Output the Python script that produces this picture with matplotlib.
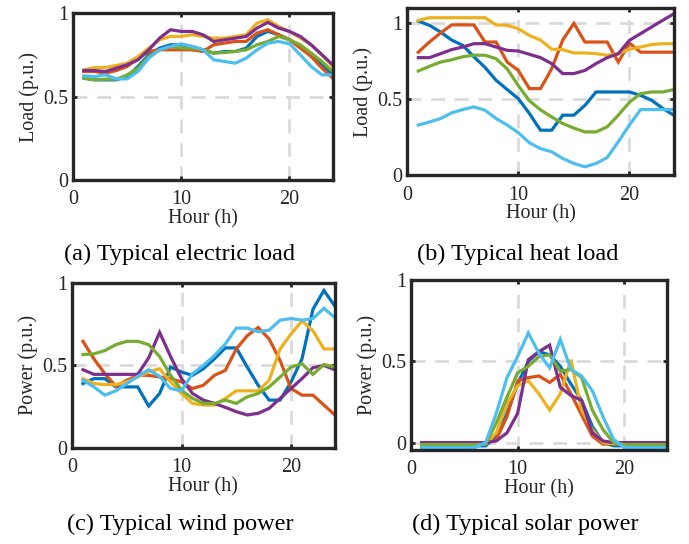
import numpy as np
import matplotlib
matplotlib.use("Agg")
import matplotlib.pyplot as plt

plt.rcParams['font.family'] = ['Liberation Serif', 'DejaVu Serif']
plt.rcParams['mathtext.fontset'] = 'stix'

hours = list(range(1, 25))

# MATLAB default colour order
colors = ['#0072BD', '#D95319', '#EDB120', '#7E2F8E', '#77AC30', '#4DBEEE']

# (a) electric load
elec_blue = [0.61, 0.60, 0.60, 0.60, 0.62, 0.68, 0.75, 0.79, 0.81, 0.81, 0.80, 0.78,
             0.76, 0.77, 0.77, 0.79, 0.86, 0.89, 0.87, 0.84, 0.80, 0.75, 0.69, 0.63]
elec_orange = [0.65, 0.65, 0.64, 0.656, 0.68, 0.73, 0.77, 0.78, 0.78, 0.78, 0.78, 0.77,
               0.81, 0.82, 0.83, 0.83, 0.88, 0.90, 0.87, 0.84, 0.79, 0.74, 0.67, 0.61]
elec_yellow = [0.66, 0.674, 0.674, 0.686, 0.70, 0.74, 0.79, 0.84, 0.86, 0.86, 0.87, 0.86,
               0.85, 0.85, 0.86, 0.87, 0.94, 0.96, 0.92, 0.89, 0.85, 0.81, 0.75, 0.68]
elec_purple = [0.656, 0.656, 0.65, 0.67, 0.69, 0.72, 0.78, 0.85, 0.90, 0.89, 0.89, 0.87,
               0.83, 0.84, 0.85, 0.86, 0.91, 0.944, 0.91, 0.89, 0.86, 0.81, 0.75, 0.69]
elec_green = [0.61, 0.60, 0.604, 0.604, 0.63, 0.67, 0.74, 0.78, 0.80, 0.79, 0.79, 0.78,
              0.76, 0.764, 0.77, 0.78, 0.81, 0.83, 0.86, 0.84, 0.81, 0.76, 0.71, 0.65]
elec_cyan = [0.624, 0.62, 0.63, 0.606, 0.606, 0.65, 0.73, 0.78, 0.80, 0.816, 0.80, 0.78,
             0.72, 0.71, 0.70, 0.73, 0.78, 0.82, 0.83, 0.816, 0.75, 0.68, 0.63, 0.63]

# (b) heat load
heat_blue = [1.015, 0.987, 0.943, 0.89, 0.855, 0.78, 0.71, 0.625, 0.564, 0.504, 0.406, 0.296,
             0.296, 0.395, 0.395, 0.46, 0.548, 0.548, 0.548, 0.548, 0.526, 0.493, 0.44, 0.395]
heat_orange = [0.81, 0.877, 0.936, 0.99, 0.99, 0.99, 0.877, 0.877, 0.745, 0.69, 0.57, 0.57,
               0.70, 0.89, 1.0, 0.877, 0.877, 0.877, 0.745, 0.87, 0.81, 0.81, 0.81, 0.81]
heat_yellow = [1.02, 1.037, 1.037, 1.037, 1.037, 1.037, 1.037, 0.99, 0.987, 0.965, 0.92, 0.89,
               0.83, 0.827, 0.805, 0.805, 0.80, 0.79, 0.80, 0.83, 0.844, 0.86, 0.866, 0.866]
heat_purple = [0.774, 0.774, 0.80, 0.827, 0.844, 0.866, 0.866, 0.844, 0.822, 0.818, 0.796, 0.774,
               0.735, 0.669, 0.669, 0.69, 0.735, 0.774, 0.80, 0.888, 0.932, 0.976, 1.02, 1.063]
heat_green = [0.686, 0.717, 0.745, 0.76, 0.78, 0.79, 0.79, 0.767, 0.70, 0.59, 0.49, 0.43,
              0.384, 0.34, 0.31, 0.285, 0.285, 0.318, 0.395, 0.48, 0.537, 0.548, 0.548, 0.564]
heat_cyan = [0.33, 0.35, 0.373, 0.41, 0.432, 0.45, 0.428, 0.373, 0.33, 0.28, 0.213, 0.175,
             0.154, 0.11, 0.077, 0.055, 0.077, 0.116, 0.22, 0.33, 0.432, 0.432, 0.432, 0.432]

# (c) wind power
wind_blue = [0.39, 0.42, 0.42, 0.37, 0.37, 0.37, 0.254, 0.33, 0.49, 0.46, 0.44, 0.48,
             0.54, 0.606, 0.606, 0.49, 0.38, 0.29, 0.29, 0.40, 0.54, 0.84, 0.954, 0.86]
wind_orange = [0.646, 0.54, 0.45, 0.374, 0.41, 0.44, 0.44, 0.43, 0.42, 0.40, 0.36, 0.38,
               0.44, 0.47, 0.60, 0.68, 0.73, 0.66, 0.53, 0.36, 0.32, 0.32, 0.26, 0.20]
wind_yellow = [0.42, 0.39, 0.384, 0.384, 0.40, 0.43, 0.46, 0.48, 0.40, 0.33, 0.27, 0.26,
               0.26, 0.30, 0.346, 0.346, 0.346, 0.41, 0.60, 0.69, 0.77, 0.71, 0.60, 0.60]
wind_purple = [0.474, 0.446, 0.446, 0.446, 0.446, 0.446, 0.546, 0.70, 0.554, 0.42, 0.33, 0.29,
               0.27, 0.246, 0.22, 0.20, 0.21, 0.24, 0.30, 0.36, 0.42, 0.486, 0.50, 0.474]
wind_green = [0.566, 0.57, 0.59, 0.626, 0.646, 0.646, 0.626, 0.554, 0.44, 0.35, 0.30, 0.27,
              0.27, 0.29, 0.27, 0.31, 0.33, 0.37, 0.43, 0.49, 0.51, 0.446, 0.506, 0.49]
wind_cyan = [0.41, 0.37, 0.32, 0.346, 0.39, 0.434, 0.474, 0.434, 0.36, 0.346, 0.45, 0.50,
             0.56, 0.63, 0.726, 0.726, 0.704, 0.714, 0.774, 0.784, 0.774, 0.784, 0.846, 0.79]

# (d) solar power
solar_blue = [-0.02, -0.02, -0.02, -0.02, -0.02, -0.02, -0.02, 0.04, 0.18, 0.36, 0.50, 0.56,
              0.54, 0.47, 0.36, 0.26, 0.10, 0.0, -0.02, -0.02, -0.02, -0.02, -0.02, -0.02]
solar_orange = [-0.005, -0.005, -0.005, -0.005, -0.005, -0.005, -0.005, 0.02, 0.16, 0.38, 0.40, 0.41,
                0.37, 0.42, 0.30, 0.17, 0.04, -0.01, -0.005, -0.005, -0.005, -0.005, -0.005, -0.005]
solar_yellow = [-0.008, -0.008, -0.008, -0.008, -0.008, -0.008, -0.008, 0.06, 0.24, 0.35, 0.38, 0.30,
                0.20, 0.30, 0.51, 0.20, 0.08, 0.0, -0.008, -0.008, -0.008, -0.008, -0.008, -0.008]
solar_purple = [0.0, 0.0, 0.0, 0.0, 0.0, 0.0, 0.0, 0.01, 0.06, 0.18, 0.51, 0.56,
                0.60, 0.34, 0.29, 0.26, 0.06, 0.01, 0.0, 0.0, 0.0, 0.0, 0.0, 0.0]
solar_green = [-0.012, -0.012, -0.012, -0.012, -0.012, -0.012, -0.01, 0.12, 0.28, 0.43, 0.47, 0.53,
               0.54, 0.44, 0.45, 0.40, 0.20, 0.08, 0.0, -0.012, -0.012, -0.012, -0.012, -0.012]
solar_cyan = [-0.03, -0.03, -0.03, -0.03, -0.03, -0.03, 0.0, 0.18, 0.40, 0.53, 0.675, 0.55,
              0.46, 0.635, 0.45, 0.41, 0.32, 0.16, 0.02, -0.03, -0.03, -0.03, -0.03, -0.03]

panels = [
    ([0.106, 0.669, 0.377, 0.307], [elec_blue, elec_orange, elec_yellow, elec_purple, elec_green, elec_cyan],
     'Load (p.u.)', (0, 1), '(a) Typical electric load', (0.26, 0.532)),
    ([0.591, 0.678, 0.387, 0.307], [heat_blue, heat_orange, heat_yellow, heat_purple, heat_green, heat_cyan],
     'Load (p.u.)', (0, 1.1), '(b) Typical heat load', (0.751, 0.532)),
    ([0.1045, 0.1765, 0.3815, 0.3035], [wind_blue, wind_orange, wind_yellow, wind_purple, wind_green, wind_cyan],
     'Power (p.u.)', (0, 1), '(c) Typical wind power', (0.261, 0.036)),
    ([0.5965, 0.173, 0.3715, 0.312], [solar_blue, solar_orange, solar_yellow, solar_purple, solar_green, solar_cyan],
     'Power (p.u.)', (-0.045, 1), '(d) Typical solar power', (0.762, 0.036)),
]

fig = plt.figure(figsize=(6.89, 5.44), dpi=100)

for rect, series, ylab, ylim, caption, cap_pos in panels:
    ax = fig.add_axes(rect)
    for s, c in zip(series, colors):
        ax.plot(hours, s, color=c, lw=2.3, solid_joinstyle='miter')
    ax.set_xlim(0, 24)
    ax.set_ylim(*ylim)
    ax.set_xticks([0, 10, 20])
    ax.set_yticks([0, 0.5, 1])
    ax.set_yticklabels(['0', '0.5', '1'])
    ax.grid(True, color='#dadada', ls=(0, (5, 3.5)), lw=2.0)
    ax.set_axisbelow(True)
    for sp in ax.spines.values():
        sp.set_linewidth(2.4)
        sp.set_color('#262626')
    ax.tick_params(direction='in', length=3, width=2, top=True, right=True,
                   labelsize=14.5, colors='#262626')
    ax.tick_params(axis='x', pad=7.5)
    ax.tick_params(axis='y', pad=3.5)
    ax.set_xlabel('Hour (h)', fontsize=14.5, labelpad=0, color='#262626')
    ax.set_ylabel(ylab, fontsize=14.5, labelpad=3, color='#262626')
    fig.text(cap_pos[0], cap_pos[1], caption, fontsize=17.5, ha='center', va='center')

fig.savefig('out.png', dpi=100)
